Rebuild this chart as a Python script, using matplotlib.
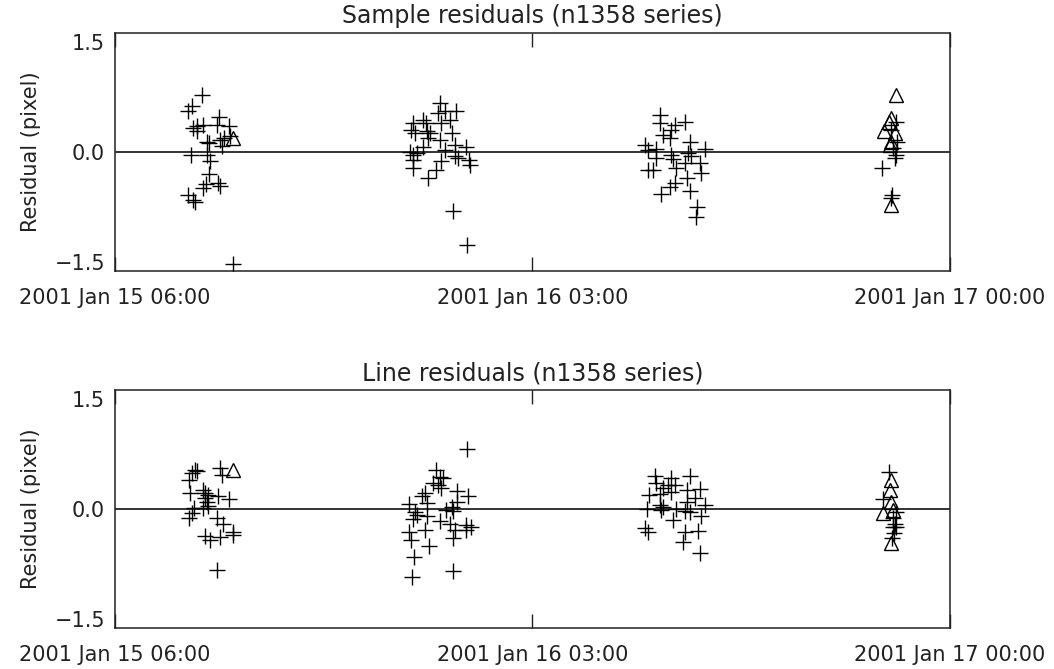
import numpy as np
import pandas as pd
import matplotlib
matplotlib.use("Agg")
import matplotlib.pyplot as plt
import matplotlib.dates as mdates

# times are hours after 2001-01-15 00:00, residuals in pixels
sample_plus_t = [10.39, 9.86, 9.66, 11.25, 9.91, 10.11, 10.44, 11.12, 11.75, 10.11,
                 10.61, 10.74, 11.28, 11.37, 11.48, 11.78, 9.82, 10.64, 10.81, 10.73,
                 10.56, 10.41, 11.19, 11.28, 9.69, 9.94, 10.02, 11.95,
                 22.35, 22.26, 22.60, 23.15, 22.43, 22.85, 21.51, 21.64, 21.01, 20.92,
                 21.09, 21.68, 21.85, 22.94, 21.76, 21.51, 22.35, 22.60, 23.10, 23.69,
                 20.84, 20.98, 21.18, 21.01, 23.10, 23.27, 23.82, 23.86, 22.43, 22.18,
                 21.01, 21.76, 22.99, 23.72,
                 33.41, 34.67, 33.41, 34.16, 34.00, 33.58, 33.92, 34.93, 32.66, 32.83,
                 33.25, 35.68, 34.84, 34.00, 35.01, 34.08, 33.25, 35.43, 34.67, 34.25,
                 32.83, 33.08, 35.51, 34.76, 34.17, 33.92, 33.50, 34.93, 35.31, 35.26,
                 45.32, 45.07, 45.35, 45.15, 45.32, 45.24, 44.62, 45.07, 45.12]
sample_plus_r = [0.77, 0.63, 0.55, 0.47, 0.33, 0.35, 0.37, 0.36, 0.35, 0.29,
                 0.14, 0.12, 0.16, 0.08, 0.19, 0.22, -0.04, -0.04, -0.13, -0.30,
                 -0.44, -0.49, -0.43, -0.46, -0.59, -0.65, -0.68, -1.52,
                 0.66, 0.53, 0.55, 0.55, 0.39, 0.43, 0.43, 0.39, 0.39, 0.30,
                 0.26, 0.28, 0.26, 0.26, 0.19, 0.07, 0.16, 0.03, 0.10, 0.06,
                 0.00, -0.04, -0.02, -0.11, -0.06, -0.09, -0.11, -0.18, -0.13, -0.24,
                 -0.22, -0.36, -0.80, -1.27,
                 0.50, 0.41, 0.39, 0.37, 0.30, 0.23, 0.19, 0.13, 0.10, 0.03,
                 0.04, 0.04, -0.02, -0.04, -0.06, -0.10, -0.09, -0.15, -0.15, -0.22,
                 -0.24, -0.24, -0.29, -0.35, -0.42, -0.48, -0.57, -0.53, -0.75, -0.89,
                 0.41, 0.30, 0.14, 0.05, -0.04, -0.09, -0.22, -0.63, -0.59]
sample_tri_t = [11.95, 45.28, 45.07, 44.95, 44.68, 45.24, 45.07, 44.98, 45.07]
sample_tri_r = [0.19, 0.78, 0.46, 0.41, 0.28, 0.26, 0.14, 0.10, -0.72]

line_plus_t = [10.02, 10.11, 9.86, 9.74, 11.28, 11.37, 9.77, 10.41, 10.53, 10.69,
               10.53, 10.61, 11.19, 11.75, 10.69, 9.97, 9.86, 9.74, 10.44, 11.14,
               11.45, 11.92, 11.95, 11.28, 10.53, 10.78, 11.14,
               23.74, 22.15, 22.35, 22.51, 22.01, 22.26, 22.43, 23.19, 23.77, 21.59,
               21.43, 21.71, 23.19, 22.94, 20.80, 21.09, 21.18, 22.65, 23.02, 21.68,
               21.01, 22.35, 22.85, 23.69, 23.94, 23.69, 23.10, 21.59, 20.80, 20.92,
               23.02, 21.81, 21.06, 22.99, 20.97,
               33.16, 34.93, 34.00, 33.21, 33.83, 34.17, 33.58, 34.76, 35.43, 34.00,
               33.41, 32.88, 35.18, 34.76, 35.68, 33.41, 33.58, 32.75, 33.50, 34.25,
               34.67, 34.93, 35.51, 34.08, 32.66, 32.83, 35.34, 34.67, 34.58, 35.43,
               44.95, 44.65, 45.32, 45.15, 45.24, 45.32, 45.15, 45.20, 45.10]
line_plus_r = [0.53, 0.51, 0.49, 0.40, 0.56, 0.46, 0.22, 0.26, 0.22, 0.19,
               0.15, 0.10, 0.17, 0.13, 0.04, 0.01, -0.06, -0.13, 0.01, -0.13,
               -0.20, -0.31, -0.35, -0.38, -0.37, -0.42, -0.83,
               0.81, 0.53, 0.44, 0.42, 0.35, 0.33, 0.28, 0.25, 0.18, 0.21,
               0.18, 0.08, 0.10, 0.03, 0.06, -0.04, -0.08, -0.01, -0.03, -0.10,
               -0.14, -0.16, -0.21, -0.22, -0.24, -0.29, -0.29, -0.29, -0.32, -0.42,
               -0.39, -0.50, -0.66, -0.85, -0.92,
               0.45, 0.45, 0.42, 0.35, 0.32, 0.33, 0.28, 0.26, 0.27, 0.23,
               0.20, 0.19, 0.15, 0.10, 0.05, 0.05, 0.03, 0.00, -0.01, 0.00,
               -0.03, -0.04, -0.10, -0.15, -0.26, -0.31, -0.30, -0.32, -0.45, -0.60,
               0.50, 0.13, -0.04, -0.13, -0.20, -0.24, -0.24, -0.33, -0.40]
line_tri_t = [11.95, 45.07, 44.98, 45.07, 44.65, 45.15, 45.05]
line_tri_r = [0.53, 0.40, 0.26, 0.10, -0.06, -0.01, -0.47]

titles = ["Sample residuals (n1358 series)", "Line residuals (n1358 series)"]
base = pd.Timestamp("2001-01-15 00:00")
tick_times = ["2001-01-15 06:00", "2001-01-16 03:00", "2001-01-17 00:00"]


def to_dates(hours):
    return base + pd.to_timedelta(np.array(hours), unit="h")


fg = "#222222"
plt.rcParams["font.family"] = "DejaVu Sans"
fig = plt.figure(figsize=(10.54, 6.69), dpi=100)
ax1 = fig.add_axes([0.109, 0.595, 0.792, 0.356])
ax2 = fig.add_axes([0.109, 0.0613, 0.792, 0.356])

panels = [(ax1, sample_plus_t, sample_plus_r, sample_tri_t, sample_tri_r),
          (ax2, line_plus_t, line_plus_r, line_tri_t, line_tri_r)]

for (ax, pt, pr, tt, tr), title in zip(panels, titles):
    ax.plot(to_dates(pt), pr, linestyle="none", marker="+", ms=12,
            mew=1.0, color="black")
    ax.plot(to_dates(tt), tr, linestyle="none", marker="^", ms=10,
            mew=1.0, mfc="none", mec="black")
    ax.axhline(0, color=fg, lw=1.3, zorder=0)
    ax.set_xlim(pd.Timestamp(tick_times[0]), pd.Timestamp(tick_times[-1]))
    ax.set_ylim(-1.62, 1.62)
    ax.set_yticks([-1.5, 0.0, 1.5])
    ax.set_yticklabels(["\u22121.5", "0.0", "1.5"])
    ax.set_xticks([pd.Timestamp(t) for t in tick_times])
    ax.xaxis.set_major_formatter(mdates.DateFormatter("%Y %b %d %H:%M"))
    ax.tick_params(axis="x", direction="in", top=True, length=10, width=1,
                   color=fg, labelsize=15, labelcolor=fg, pad=12)
    ax.tick_params(axis="y", length=0, labelsize=15, labelcolor=fg, pad=7)
    ax.set_ylabel("Residual (pixel)", fontsize=15, color=fg, labelpad=10)
    ax.set_title(title, fontsize=17, color=fg, pad=7)
    for s in ax.spines.values():
        s.set_color(fg)
        s.set_linewidth(1.1)

fig.savefig("out.png", dpi=100)
